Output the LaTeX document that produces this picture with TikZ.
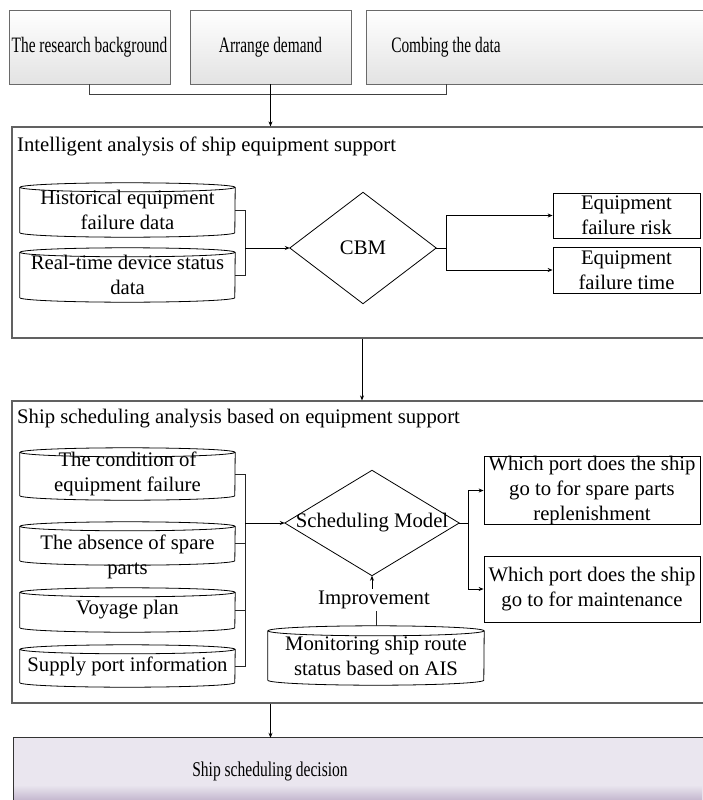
\documentclass[tikz,border=0pt]{standalone}
\usepackage{fontspec}
\usepackage{graphicx}
\setmainfont{Liberation Serif}
\usetikzlibrary{calc,arrows.meta}
\definecolor{lav}{HTML}{EAE6EF}
\definecolor{lavd}{HTML}{C4B8CF}
\definecolor{boxline}{HTML}{6A6A6A}
\newcommand\condtxt[1]{\scalebox{0.7}[1]{\fontsize{22}{26}\selectfont #1}}
\newcommand\condfin[1]{\scalebox{0.74}[1]{\fontsize{21}{25}\selectfont #1}}
\newcommand\mkcyl[3]{%
  \draw[cylline] ([yshift=-#3pt]#1.north west) -- ([yshift=#3pt]#1.south west)
     arc[start angle=180,end angle=360,x radius=#2,y radius=#3] -- ([yshift=-#3pt]#1.north east);
  \draw[cylline] ([yshift=-#3pt]#1.north) ellipse[x radius=#2, y radius=#3];
}
\begin{document}
\begin{tikzpicture}[x=1pt,y=1pt,
  every node/.style={font=\fontsize{20.7}{25}\selectfont, inner sep=0pt, align=center},
  topbox/.style={draw=boxline, line width=0.9pt, top color=white, bottom color=black!11, minimum height=74pt},
  secbox/.style={draw=black!62, line width=1.2pt},
  cyl/.style={draw=none},
  cylline/.style={draw=black, line width=0.8pt},
  dia/.style={draw=none},
  diaedge/.style={draw=black, line width=0.8pt},
  outbox/.style={draw=black, line width=0.8pt},
  conn/.style={draw=black!85, line width=0.8pt},
  brk/.style={draw=black!75, line width=0.9pt},
  arr/.style={draw=black, line width=0.8pt, -{Stealth[length=5pt,width=4pt]}},
]
\useasboundingbox (0,0) rectangle (702,-800);

% ---------- top boxes ----------
\node[topbox, minimum width=161pt] (b1) at (89.5,-47) {\condtxt{The research background}};
\node[topbox, minimum width=161pt] (b2) at (270.5,-47) {\condtxt{Arrange demand}};
\node[topbox, minimum width=346pt] (b3) at (539,-47) {};
\node (b3t) at (446,-47) {\condtxt{Combing the data}};
\coordinate (brY) at (0,-94);
\draw[brk] (b1.south) |- (b3t |- brY) -- (b3t |- b3.south);

% ---------- section boxes ----------
\node[secbox, minimum width=700pt, minimum height=211pt] (s1) at (362,-232.5) {};
\node[secbox, minimum width=700pt, minimum height=302pt] (s2) at (362,-552) {};
\draw[arr] (b2.south) -- (b2.south |- s1.north);
\draw[arr] (s1.south) -- (s1.south |- s2.north);

\node[anchor=base west] (t1) at (17,-151) {Intelligent analysis of ship equipment support};
\node[anchor=base west] (t2) at (17,-423) {Ship scheduling analysis based on equipment support};

% ---------- section 1 ----------
\node[cyl, minimum width=215pt, minimum height=54pt] (h1) at (127.5,-210) {Historical equipment\\failure data};
\node[cyl, minimum width=215pt, minimum height=54pt] (h2) at (127.5,-275) {Real-time device status\\data};
\mkcyl{h1}{107.5}{4.5}
\mkcyl{h2}{107.5}{4.5}

\node[dia, minimum width=146pt, minimum height=111pt] (cbm) at (363,-248) {CBM};
\draw[diaedge] (cbm.west) -- (cbm.north) -- (cbm.east) -- (cbm.south) -- cycle;

\coordinate (bx1) at (245,0);
\draw[conn] (h1.east) -| (bx1 |- h2.east) -- (h2.east);
\draw[arr] (bx1 |- cbm.west) -- (cbm.west);

\node[outbox, minimum width=147pt, minimum height=45pt] (r1) at (626.5,-215.5) {Equipment\\failure risk};
\node[outbox, minimum width=147pt, minimum height=46pt] (r2) at (626.5,-270) {Equipment\\failure time};
\coordinate (fx1) at (446,0);
\draw[arr] (cbm.east) -- (fx1 |- cbm.east) |- (r1.west);
\draw[arr] (fx1 |- cbm.east) |- (r2.west);

% ---------- section 2 ----------
\node[cyl, minimum width=215pt, minimum height=52pt] (c1) at (127.5,-474) {The condition of\\equipment failure};
\node[cyl, minimum width=215pt, minimum height=43pt] (c2) at (127.5,-543.5) {};
\node (c2t) at (127.5,-557) {The absence of spare\\parts};
\node[cyl, minimum width=215pt, minimum height=44pt] (c3) at (127.5,-610) {Voyage plan};
\node[cyl, minimum width=215pt, minimum height=42pt] (c4) at (127.5,-666) {Supply port information};
\mkcyl{c1}{107.5}{4.5}
\mkcyl{c2}{107.5}{4.5}
\mkcyl{c3}{107.5}{4.5}
\mkcyl{c4}{107.5}{4.5}

\node[dia, minimum width=174pt, minimum height=105pt] (sm) at (372,-523) {Scheduling Model};
\draw[diaedge] (sm.west) -- (sm.north) -- (sm.east) -- (sm.south) -- cycle;

\coordinate (bx2) at (245,0);
\draw[conn] (c1.east) -| (bx2 |- c4.east) -- (c4.east);
\draw[conn] (c2.east) -- (bx2 |- c2.east);
\draw[conn] (c3.east) -- (bx2 |- c3.east);
\draw[arr] (bx2 |- sm.west) -- (sm.west);

\node[outbox, minimum width=216pt, minimum height=67pt] (o1) at (592,-490.5) {Which port does the ship\\go to for spare parts\\replenishment};
\node[outbox, minimum width=216pt, minimum height=66pt] (o2) at (592,-589) {Which port does the ship\\go to for maintenance};
\coordinate (fx2) at (468,0);
\draw[arr] (sm.east) -- (fx2 |- sm.east) |- (o1.west);
\draw[arr] (fx2 |- sm.east) |- (o2.west);

\node[cyl, minimum width=216pt, minimum height=59pt] (mon) at (376,-655.5) {Monitoring ship route\\status based on AIS};
\mkcyl{mon}{108}{5}
\node[inner ysep=2pt] (imp) at (374,-600) {Improvement};
\draw[conn] (mon.north) -- (mon.north |- imp.south);
\draw[arr] (sm.south |- imp.north) -- (sm.south);

% ---------- final box ----------
\node[fill=lav, draw=none, minimum width=698pt, minimum height=74pt] (fin) at (363,-775) {};
\shade[top color=lav, bottom color=lavd] (fin.west |- 0,-785) rectangle (702,-800);
\draw[draw=black!80, line width=1pt] (fin.south west) -- (fin.north west) -- (fin.north east);
\node (fint) at (270,-771) {\condfin{Ship scheduling decision}};
\draw[arr] (s2.south -| b2.south) -- (fin.north -| b2.south);
\end{tikzpicture}
\end{document}
